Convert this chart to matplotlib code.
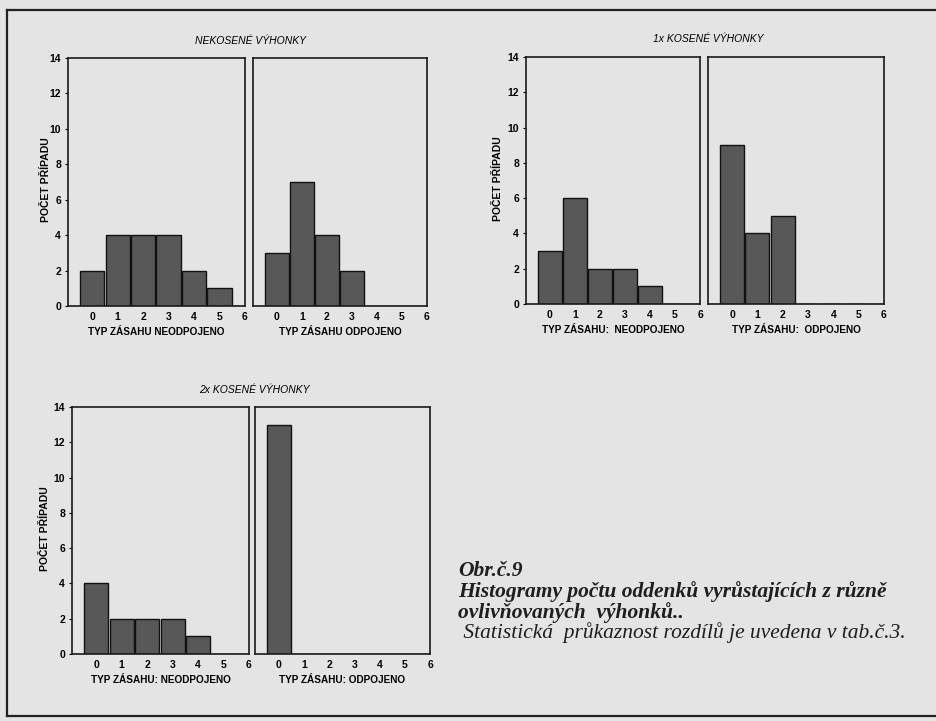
import numpy as np
import matplotlib.pyplot as plt
from matplotlib.lines import Line2D

# histogram counts per intervention type (0..6)
types = [0, 1, 2, 3, 4, 5, 6]
nekosene_neodp = [2, 4, 4, 4, 2, 1, 0]
nekosene_odp = [3, 7, 4, 2, 0, 0, 0]
kosene1_neodp = [3, 6, 2, 2, 1, 0, 0]
kosene1_odp = [9, 4, 5, 0, 0, 0, 0]
kosene2_neodp = [4, 2, 2, 2, 1, 0, 0]
kosene2_odp = [13, 0, 0, 0, 0, 0, 0]

titles = ['NEKOSENÉ VÝHONKY', '1x KOSENÉ VÝHONKY', '2x KOSENÉ VÝHONKY']
xlabels = [('TYP ZÁSAHU NEODPOJENO', 'TYP ZÁSAHU ODPOJENO'),
           ('TYP ZÁSAHU:  NEODPOJENO', 'TYP ZÁSAHU:  ODPOJENO'),
           ('TYP ZÁSAHU: NEODPOJENO', 'TYP ZÁSAHU: ODPOJENO')]
ylabel = 'POČET PŘÍPADU'
caption = ['Obr.č.9',
           'Histogramy počtu oddenků vyrůstajících z různě',
           'ovlivňovaných  výhonků..',
           ' Statistická  průkaznost rozdílů je uvedena v tab.č.3.']

W, H = 937, 721
paper = '#e4e4e4'
bar_col = '#585858'
sans = 'Liberation Sans'

fig = plt.figure(figsize=(W / 100, H / 100), dpi=100, facecolor=paper)


def fx(px):
    return px / W


def fy(py):
    return 1 - py / H


def panel(x0, x1, top, bottom, counts, xlab, show_y):
    ax = fig.add_axes([fx(x0), fy(bottom), fx(x1 - x0), (bottom - top) / H])
    ax.set_facecolor('none')
    ax.bar(types, counts, width=0.95, color=bar_col, edgecolor='#111111', lw=1.0)
    ax.set_xlim(-0.95, 6.0)
    ax.set_ylim(0, 14)
    ax.set_xticks(types)
    ax.set_yticks(range(0, 15, 2))
    ax.tick_params(axis='x', length=0, pad=4, labelsize=7.5)
    ax.tick_params(axis='y', length=2, pad=3, labelsize=7.5, left=show_y, labelleft=show_y)
    for lab in ax.get_xticklabels() + ax.get_yticklabels():
        lab.set_fontweight('bold')
        lab.set_family(sans)
    for s in ax.spines.values():
        s.set_linewidth(1.2)
        s.set_color('#1a1a1a')
    ax.set_xlabel(xlab, fontsize=7.2, fontweight='bold', family=sans, labelpad=4)
    return ax


layout = [
    # (left axes x0, x1, right axes x0, x1, top, bottom, title y, ylabel x)
    (68, 245, 253, 427, 58, 306, 41, 46),
    (526, 700, 708, 884, 57, 304, 39, 498),
    (72, 249, 255, 430, 407, 654, 390, 45),
]
data = [(nekosene_neodp, nekosene_odp),
        (kosene1_neodp, kosene1_odp),
        (kosene2_neodp, kosene2_odp)]

for (lx0, lx1, rx0, rx1, top, bottom, ty, yx), (left, right), title, xl in zip(layout, data, titles, xlabels):
    panel(lx0, lx1, top, bottom, left, xl[0], True)
    panel(rx0, rx1, top, bottom, right, xl[1], False)
    fig.text(fx((lx0 + rx1) / 2 + 3), fy(ty), title, ha='center', va='center',
             fontsize=7.5, fontstyle='italic', family=sans)
    fig.text(fx(yx), fy((top + bottom) / 2 - 2), ylabel, rotation=90, ha='center',
             va='center', fontsize=7.5, fontweight='bold', family=sans)

# caption
cap_pos = [(458, 576, 'bold'), (458, 597, 'bold'), (458, 618, 'bold'), (458, 638, 'normal')]
for (x, y, wt), line in zip(cap_pos, caption):
    fig.text(fx(x), fy(y), line, ha='left', va='baseline', fontsize=15.5,
             fontstyle='italic', fontweight=wt, family='Liberation Serif', color='#1e1e1e')

# page frame from the scan
for xs, ys in [((7, W), (10, 10)), ((7, 7), (10, 716)), ((7, W), (716, 716))]:
    fig.add_artist(Line2D([fx(v) for v in xs], [fy(v) for v in ys], color='#222222', lw=1.6))

fig.savefig('out.png', dpi=100, facecolor=paper)
